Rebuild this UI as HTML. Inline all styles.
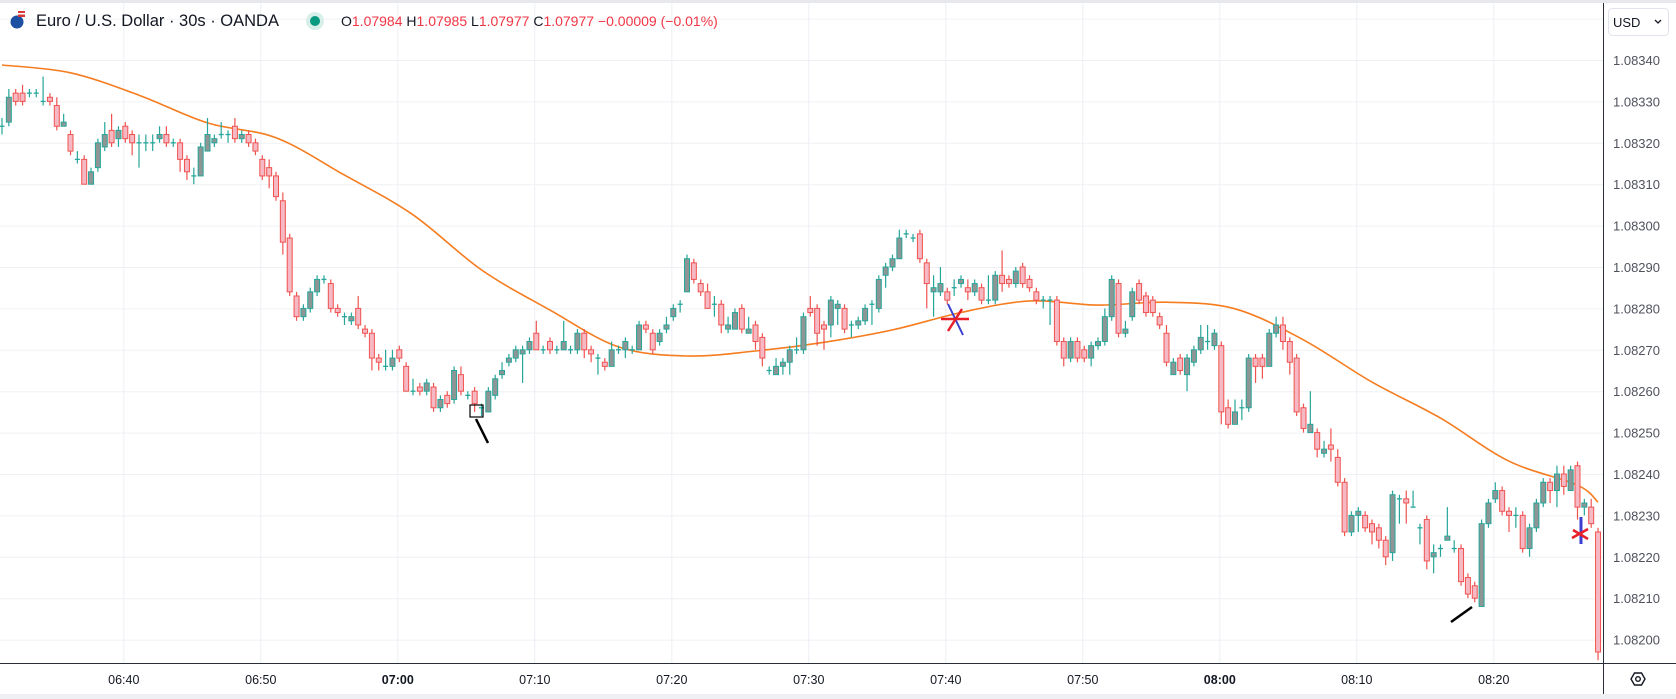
<!DOCTYPE html>
<html><head><meta charset="utf-8"><style>
html,body{margin:0;padding:0;background:#fff;overflow:hidden}
svg{display:block;font-family:"Liberation Sans",sans-serif}
</style></head><body>
<svg id="chart" width="1676" height="699" viewBox="0 0 1676 699" xmlns="http://www.w3.org/2000/svg">
<rect x="0" y="0" width="1676" height="699" fill="#fff"/>
<rect x="0" y="0" width="1676" height="3" fill="#e6e8ee"/>
<rect x="0" y="694" width="1676" height="5" fill="#eef0f3"/>
<g id="grid"></g>
<g id="ma"></g>
<g id="candles"></g>
<g>
 <rect x="470" y="405" width="13" height="12" fill="none" stroke="#000" stroke-width="1.2"/>
 <line x1="476" y1="419" x2="488" y2="443" stroke="#000" stroke-width="2.5"/>
 <line x1="1451" y1="622" x2="1472" y2="607" stroke="#000" stroke-width="2.5"/>
 <line x1="948" y1="304" x2="963" y2="335" stroke="#3b3fd1" stroke-width="2"/>
 <line x1="941" y1="319" x2="969" y2="319" stroke="#e8202a" stroke-width="2.5"/>
 <line x1="948" y1="331" x2="962" y2="309" stroke="#e8202a" stroke-width="2.5"/>
 <line x1="1581" y1="517" x2="1581" y2="544" stroke="#3b3fd1" stroke-width="3"/>
 <line x1="1572" y1="538" x2="1588" y2="529" stroke="#e8202a" stroke-width="2.5"/>
 <line x1="1573" y1="530" x2="1588" y2="539" stroke="#e8202a" stroke-width="2.5"/>
</g>
<rect x="1604" y="3" width="72" height="691" fill="#fff"/>
<rect x="0" y="664" width="1604" height="30" fill="#fff"/>
<line x1="1603.5" y1="3" x2="1603.5" y2="694" stroke="#2a2e39" stroke-width="1"/>
<line x1="0" y1="663.5" x2="1676" y2="663.5" stroke="#2a2e39" stroke-width="1"/>
<g id="yaxis"></g>
<g id="xaxis"></g>
<g>
 <rect x="1608.5" y="8.5" width="60" height="27" rx="4" fill="#fff" stroke="#e0e3eb"/>
 <text x="1613" y="27" font-size="13" fill="#131722">USD</text>
 <path d="M1655 20 l3 3 l3 -3" fill="none" stroke="#131722" stroke-width="1.3"/>
</g>
<g transform="translate(1638,679)">
 <path d="M-7 0 L-3.5 -6 L3.5 -6 L7 0 L3.5 6 L-3.5 6 Z" fill="none" stroke="#131722" stroke-width="1.4"/>
 <circle r="2.3" fill="none" stroke="#131722" stroke-width="1.4"/>
</g>
<g>
 <g>
  <circle cx="17" cy="22" r="6.5" fill="#1d4fa3"/>
  <rect x="18" y="11" width="7" height="6" fill="#d83a3a"/><rect x="18" y="13" width="7" height="1.5" fill="#fff"/>
 </g>
 <text x="36" y="26" font-size="16.5" fill="#131722">Euro / U.S. Dollar · 30s · OANDA</text>
 <circle cx="315" cy="21" r="9" fill="#d6efe9"/>
 <circle cx="315" cy="21" r="5" fill="#089981"/>
 <text x="341" y="26" font-size="14" fill="#f23645"><tspan fill="#131722">O</tspan>1.07984 <tspan fill="#131722">H</tspan>1.07985 <tspan fill="#131722">L</tspan>1.07977 <tspan fill="#131722">C</tspan>1.07977 −0.00009 (−0.01%)</text>
</g>
</svg>
<script>
// prices in units of 0.00001 above 1.08000
const opens=[324,325,332,332,332,332,330,331,329,324,322,316,316,310,314,319,323,321,324,322,320,320,320,321,322,320,320,316,312,312,318,320,322,322,324,321,322,320,316,314,312,306,297,283,278,280,284,287,286,280,278,277,280,275,274,268,266,266,270,266,260,261,260,261,256,259,258,264,259,260,256,255,259,264,267,268,269,270,274,270,272,270,270,270,270,274,270,268,267,266,270,270,270,270,276,274,272,275,278,281,284,291,286,284,281,281,275,275,280,274,276,273,265,264,266,267,270,270,280,280,276,276,280,280,276,276,277,281,280,288,290,292,298,297,298,291,284,284,284,285,286,285,284,285,282,282,288,287,286,290,287,284,282,282,282,272,268,272,270,268,271,272,278,286,274,278,286,283,282,278,274,264,268,264,267,270,272,271,271,256,252,256,256,268,268,266,274,276,272,268,256,250,250,245,247,244,238,226,230,230,228,227,224,221,234,234,232,227,229,220,222,224,222,222,215,213,208,228,234,236,231,230,230,222,227,233,238,236,240,236,242,232,232,226];
const closes=[324,331,330,330,332,332,330,330,324,325,318,316,310,313,320,322,320,323,321,320,320,320,320,322,320,320,316,313,312,319,322,321,322,322,321,322,320,318,312,312,307,296,284,278,280,284,287,287,280,279,278,278,276,274,268,267,266,268,268,260,260,260,262,256,258,257,265,260,259,257,256,260,263,265,268,270,270,272,270,270,270,270,272,270,274,270,269,268,266,270,270,272,270,276,275,270,274,276,280,281,292,287,284,280,281,276,276,279,275,275,272,268,265,266,267,270,270,278,279,274,275,282,281,275,276,277,280,281,287,290,292,297,298,297,292,286,285,286,282,285,287,284,286,282,282,288,286,286,289,286,285,282,282,282,272,268,272,268,268,271,272,278,287,274,275,284,282,279,279,276,267,267,265,268,270,273,272,274,255,252,255,256,268,266,266,274,276,272,267,255,251,252,246,246,246,238,226,230,231,227,226,224,220,235,234,233,232,227,219,221,222,225,222,214,211,210,228,233,236,231,230,230,222,227,233,238,236,240,237,241,232,233,228,197];
const highs=[326,333,333,334,333,333,336,332,331,327,323,318,317,314,321,325,327,324,325,323,322,322,322,324,324,321,321,317,314,320,326,322,325,323,326,323,323,321,317,316,313,308,298,284,281,285,288,288,287,281,279,279,283,276,275,269,270,270,271,267,263,262,263,262,259,260,266,266,260,261,257,261,264,267,269,271,271,273,277,271,273,271,277,271,275,275,271,269,268,272,271,273,271,277,277,275,275,278,281,282,293,292,287,286,283,282,278,280,281,278,277,274,266,268,268,271,273,279,283,281,277,283,282,281,277,278,281,282,288,291,293,299,299,298,299,292,288,290,285,287,288,287,287,286,288,289,294,288,290,291,288,285,283,283,283,273,273,273,271,272,273,280,288,287,277,285,287,284,283,279,276,268,269,269,271,276,276,275,272,258,258,258,269,269,269,275,278,278,273,269,257,260,251,248,251,246,239,231,232,231,229,228,225,236,235,236,236,228,230,223,223,232,224,223,216,214,229,234,238,237,232,232,231,228,234,239,239,242,242,242,243,234,234,227];
const lows=[322,324,329,329,331,331,329,329,323,324,317,315,310,310,313,318,319,319,320,317,314,318,318,320,319,319,313,311,310,312,318,319,321,320,320,320,319,317,311,309,306,293,283,277,277,279,283,286,279,278,276,276,275,273,265,265,265,265,267,260,259,259,259,255,255,256,257,259,258,255,254,255,258,263,266,267,262,269,270,269,269,269,270,269,269,268,267,264,265,266,269,268,269,270,274,269,271,274,277,279,284,286,283,280,278,274,274,275,274,274,270,266,264,264,264,264,269,269,278,271,270,273,276,274,273,275,276,276,279,285,289,292,297,296,291,280,278,283,281,283,285,282,283,281,281,281,284,285,285,285,284,281,280,276,271,266,267,267,267,266,270,271,277,273,273,277,281,278,278,275,266,264,264,260,266,269,270,270,252,251,252,253,255,262,263,266,273,270,264,254,250,250,244,244,243,237,225,225,226,226,223,222,218,219,228,228,232,223,217,216,220,224,221,213,210,209,208,227,233,230,226,227,221,220,226,232,233,232,235,236,229,230,227,195];
const maIndex=[0,10,20,30,40,50,60,70,80,90,100,110,120,130,140,150,160,170,180,190,200,210,220,230,233];
const maValues=[338.8,336.9,331.5,324.8,321.2,312.2,302.6,289.3,279.6,270.7,268.5,269.7,271.8,274.8,279.0,281.8,280.8,281.5,279.9,272.4,262.2,253.5,243.1,237.3,233.2];
const priceTicks=[340,330,320,310,300,290,280,270,260,250,240,230,220,210,200];
const timeLabels=["06:40","06:50","07:00","07:10","07:20","07:30","07:40","07:50","08:00","08:10","08:20"];
const timeLabelIdx=[18,38,58,78,98,118,138,158,178,198,218];
const boldLabels=["07:00","08:00"];

const NS="http://www.w3.org/2000/svg";
function xOf(i){return 2+6.85*i;}
function yOf(v){return 60+(340-v)*4.14;}
function mk(tag,attrs,parent){const e=document.createElementNS(NS,tag);for(const k in attrs)e.setAttribute(k,attrs[k]);parent.appendChild(e);return e;}
const grid=document.getElementById('grid'),cg=document.getElementById('candles'),mg=document.getElementById('ma'),ya=document.getElementById('yaxis'),xa=document.getElementById('xaxis');
for(let v=350;v>=200;v-=10){
  const l=mk('line',{x1:0,x2:1603,y1:yOf(v)+0.5,y2:yOf(v)+0.5,stroke:'#edf0f4','stroke-width':1},grid);
  
  
}
timeLabelIdx.forEach((idx,k)=>{
  const x=xOf(idx)-2+0.5;
  const l=mk('line',{x1:x,x2:x,y1:3,y2:663,stroke:'#edf0f4','stroke-width':1},grid);
  
  
  const t=mk('text',{x:x,y:684,'font-size':12.5,'text-anchor':'middle',fill:'#131722','font-weight':boldLabels.includes(timeLabels[k])?'bold':'normal'},xa);
  t.textContent=timeLabels[k];
  
  
});
priceTicks.forEach(v=>{
  const t=mk('text',{x:1613,y:yOf(v)+5,'font-size':13,fill:'#50535e'},ya);
  t.textContent=(1.08+v/100000).toFixed(5);
  
  
});
// MA smoothed (Catmull-Rom)
const pts=maIndex.map((idx,k)=>[xOf(idx),yOf(maValues[k])]);
let d='M'+pts[0][0].toFixed(1)+' '+pts[0][1].toFixed(1);
for(let k=0;k<pts.length-1;k++){
  const p0=pts[Math.max(0,k-1)],p1=pts[k],p2=pts[k+1],p3=pts[Math.min(pts.length-1,k+2)];
  const c1=[p1[0]+(p2[0]-p0[0])/6,p1[1]+(p2[1]-p0[1])/6];
  const c2=[p2[0]-(p3[0]-p1[0])/6,p2[1]-(p3[1]-p1[1])/6];
  d+=' C'+c1[0].toFixed(1)+' '+c1[1].toFixed(1)+' '+c2[0].toFixed(1)+' '+c2[1].toFixed(1)+' '+p2[0].toFixed(1)+' '+p2[1].toFixed(1);
}
const p=mk('path',{d:d,fill:'none',stroke:'#f57c1f','stroke-width':1.6,'stroke-linejoin':'round'},mg);


for(let i=0;i<opens.length;i++){
  const o=opens[i],c=closes[i],h=highs[i],l=lows[i];
  const up=c>=o;
  const stroke=up?'#26a69a':'#ef5350', fill=up?'#8e9695':'#f6b8c3';
  const g=mk('g',{},cg);
  
  
  const x=xOf(i);
  mk('line',{x1:x,x2:x,y1:yOf(h),y2:yOf(l),stroke:stroke,'stroke-width':1.2},g);
  const top=yOf(Math.max(o,c)),bot=yOf(Math.min(o,c));
  if(bot-top<1.5){
    mk('line',{x1:x-2.5,x2:x+2.5,y1:top,y2:top,stroke:stroke,'stroke-width':1.3},g);
  }else{
    mk('rect',{x:x-2.5,y:top,width:5,height:bot-top,fill:fill,stroke:stroke,'stroke-width':1},g);
  }
}
</script>
</body></html>
